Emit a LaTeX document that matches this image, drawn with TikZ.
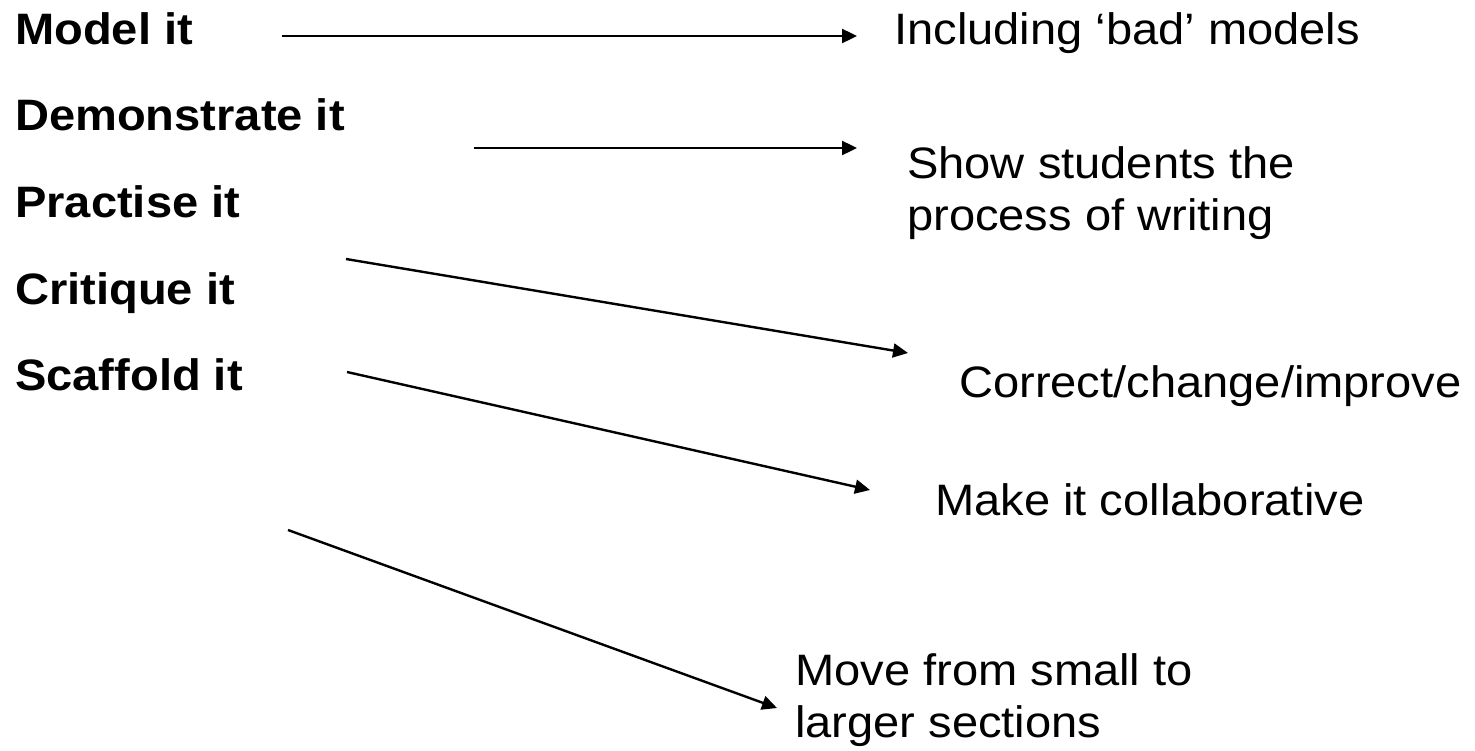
\documentclass[tikz,border=0pt]{standalone}
\usepackage{fontspec}
\setmainfont{Liberation Sans}[FakeStretch=1.07]
\usetikzlibrary{arrows.meta}
\tikzset{
  lbl/.style={anchor=base west, inner sep=0pt, font=\fontsize{44}{52}\selectfont\bfseries},
  txt/.style={anchor=base west, inner sep=0pt, align=left, font=\fontsize{44}{52}\selectfont},
  arr/.style={line width=2.4pt, -{Triangle[length=15pt,width=14pt]}}
}
\begin{document}
\begin{tikzpicture}[x=1pt,y=1pt]
\useasboundingbox (0,0) rectangle (1475,-750);
% left labels
\node[lbl] (model) at (15,-44) {Model it};
\node[lbl] (demo) at (15,-130) {Demonstrate it};
\node[lbl] (prac) at (15,-217) {Practise it};
\node[lbl] (crit) at (15,-304) {Critique it};
\node[lbl] (scaf) at (15,-390) {Scaffold it};
% right texts (base anchor of a two-line node is its last line)
\node[txt] (bad) at (894,-44) {Including ‘bad’ models};
\node[txt] (show) at (907,-230) {Show students the\\process of writing};
\node[txt] (corr) at (959,-397) {Correct/change/improve};
\node[txt] (collab) at (935,-515) {Make it collaborative};
\node[txt] (move) at (795,-737) {Move from small to\\larger sections};
% arrow ends
\coordinate (a1s) at (282,-36);  \coordinate (a1e) at (857,-36);
\coordinate (a2s) at (474,-148); \coordinate (a2e) at (857,-148);
\coordinate (a3s) at (346,-259); \coordinate (a3e) at (908,-353);
\coordinate (a4s) at (347,-372); \coordinate (a4e) at (870,-490);
\coordinate (a5s) at (288,-530); \coordinate (a5e) at (777,-708);
\draw[arr] (a1s) -- (a1e);
\draw[arr] (a2s) -- (a2e);
\draw[arr] (a3s) -- (a3e);
\draw[arr] (a4s) -- (a4e);
\draw[arr] (a5s) -- (a5e);
\end{tikzpicture}
\end{document}
